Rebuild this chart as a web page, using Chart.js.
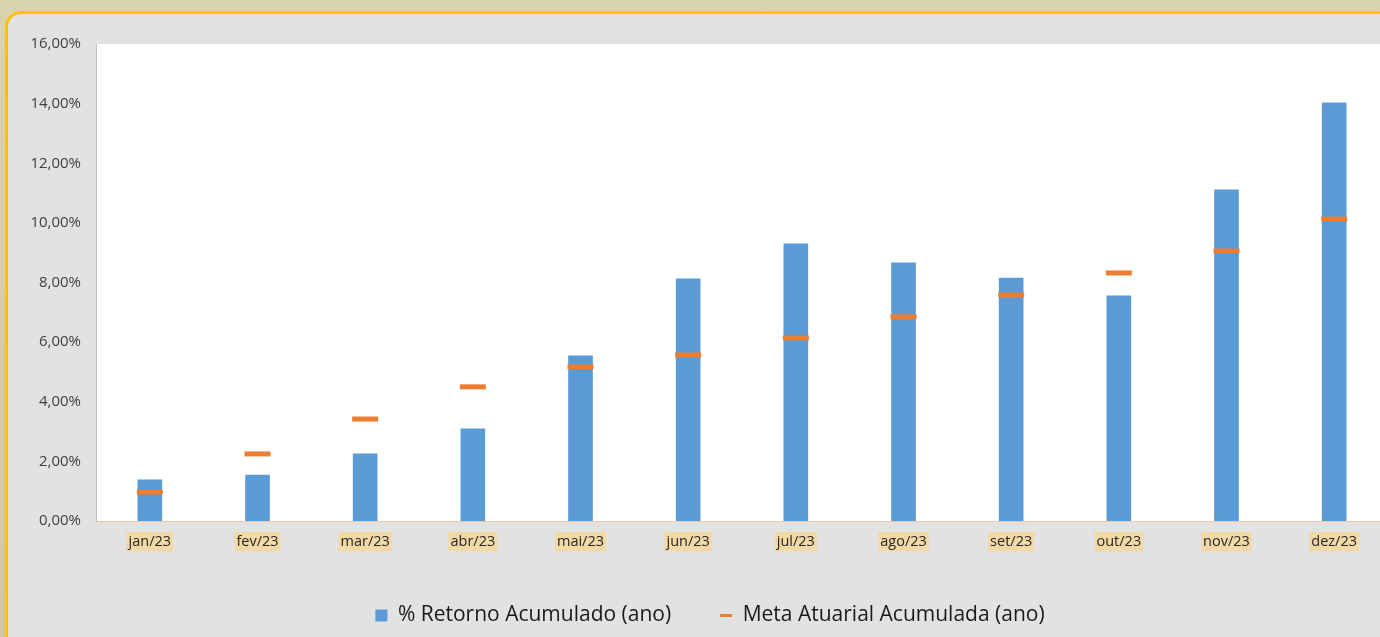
<!DOCTYPE html>
<html>
<head>
<meta charset="utf-8">
<script src="https://cdn.jsdelivr.net/npm/chart.js@4"></script>
<style>
  html, body { margin: 0; padding: 0; width: 1380px; height: 637px; overflow: hidden; }
  body { background: linear-gradient(#d9d3ab, #cfc8a0); position: relative; }
  #panel {
    position: absolute; left: 5px; top: 11px; width: 1420px; height: 660px;
    background: #e2e2e2; border: 3px solid #ffc000; border-radius: 16px; box-sizing: border-box;
  }
  #wrap { position: absolute; left: 0; top: 0; width: 1420px; height: 637px; }
</style>
</head>
<body>
<div id="panel"></div>
<div id="wrap"><canvas id="chart-area"></canvas></div>
<script>
const months = ['jan/23', 'fev/23', 'mar/23', 'abr/23', 'mai/23', 'jun/23', 'jul/23', 'ago/23', 'set/23', 'out/23', 'nov/23', 'dez/23'];
const retorno = [1.38, 1.54, 2.25, 3.09, 5.54, 8.12, 9.30, 8.66, 8.15, 7.55, 11.11, 14.03];
const meta = [0.97, 2.25, 3.42, 4.50, 5.17, 5.57, 6.14, 6.85, 7.58, 8.32, 9.06, 10.13];

const fmtPct = v => v.toFixed(2).replace('.', ',') + '%';

// white plot area
const plotBg = {
  id: 'plotBg',
  beforeDraw(chart) {
    const a = chart.chartArea;
    chart.ctx.save();
    chart.ctx.fillStyle = '#ffffff';
    chart.ctx.fillRect(a.left, a.top, a.right - a.left, a.bottom - a.top);
    chart.ctx.restore();
  }
};

// legend is centred on the whole canvas, not only up to the plot edge
const legendSpan = {
  id: 'legendSpan',
  afterLayout(chart) {
    chart.legend.right = chart.width;
  }
};

let config = {
  type: 'bar',
  data: {
    labels: months,
    datasets: [
      {
        type: 'line',
        label: 'Meta Atuarial Acumulada (ano)',
        data: meta,
        showLine: false,
        pointStyle: 'line',
        pointRadius: 13,
        pointHoverRadius: 13,
        borderWidth: 5,
        borderColor: '#ed7d31',
        backgroundColor: '#ed7d31'
      },
      {
        label: '% Retorno Acumulado (ano)',
        data: retorno,
        backgroundColor: '#5b9bd5',
        borderWidth: 0,
        barThickness: 24,
        pointStyle: 'rect'
      }
    ]
  },
  options: {
    responsive: false,
    animation: false,
    layout: { padding: { top: 44, right: 32, bottom: 1, left: 0 } },
    scales: {
      x: {
        grid: { display: false },
        border: { display: true, color: '#f4c6a6', width: 1 },
        ticks: {
          color: '#262626',
          font: { family: 'Open Sans', size: 14.5 },
          padding: 4,
          maxRotation: 0,
          showLabelBackdrop: true,
          backdropColor: '#f3d9a6',
          backdropPadding: { top: 1, bottom: 1, left: 2, right: 2 }
        },
        afterFit(scale) { scale.height = 35; }
      },
      y: {
        min: 0,
        max: 16,
        grid: { display: false },
        border: { display: true, color: '#bfbfbf', width: 1 },
        ticks: {
          stepSize: 2,
          color: '#404040',
          font: { family: 'Open Sans', size: 15 },
          padding: 7,
          callback: v => fmtPct(v)
        },
        afterFit(scale) { scale.width = 96; }
      }
    },
    plugins: {
      tooltip: { enabled: false },
      legend: {
        position: 'bottom',
        labels: {
          usePointStyle: true,
          boxWidth: 12,
          boxHeight: 12,
          pointStyleWidth: 12,
          padding: 49,
          color: '#1a1a1a',
          font: { family: 'Open Sans', size: 21 },
          sort: (a, b) => b.datasetIndex - a.datasetIndex,
          generateLabels(chart) {
            let items = Chart.defaults.plugins.legend.labels.generateLabels(chart);
            items.forEach(it => { if (it.pointStyle === 'line') it.lineWidth = 3; });
            return items;
          }
        }
      }
    }
  },
  plugins: [plotBg, legendSpan]
};

init();

function init() {
  let canvas = document.getElementById('chart-area');
  canvas.width = 1420;
  canvas.height = 637;
  window.retornoChart = new Chart(canvas.getContext('2d'), config);
}
</script>
</body>
</html>
